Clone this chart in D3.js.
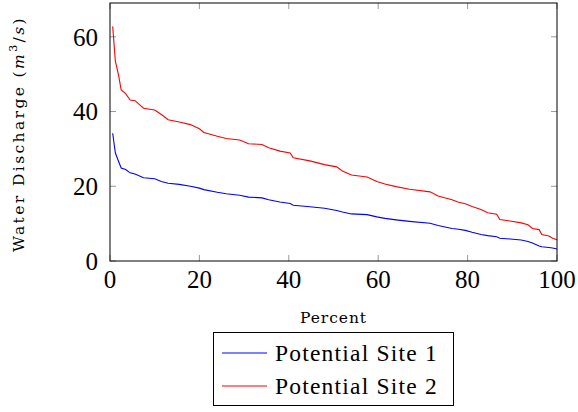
<!DOCTYPE html>
<html><head><meta charset="utf-8">
<script src="https://cdn.jsdelivr.net/npm/d3@7"></script>
<style>body{margin:0;background:#fff}svg{display:block}</style>
</head><body>
<script>
const percent = [0.6,1.2,1.9,2.5,3.5,4.5,5.6,7.5,10,11.5,13,15.5,18,20,21,24,26,29,31,34,35.5,38,40.3,41,44.7,48,50.7,52,54,57.5,59.7,61.5,64,67,71.6,73.4,76.5,78,79.5,81,83,84.5,86.5,87.2,89.5,92,93.5,94.5,96,96.6,98.2,99,100];
const site1 = [34.2,28.9,26.7,24.9,24.5,23.6,23.3,22.3,22.0,21.3,20.8,20.5,20.0,19.5,19.1,18.4,18.0,17.6,17.1,16.9,16.4,15.8,15.4,14.9,14.5,14.1,13.5,13.1,12.6,12.4,11.8,11.4,11.0,10.6,10.1,9.5,8.7,8.5,8.2,7.7,7.1,6.8,6.5,6.1,5.9,5.6,5.2,4.8,4.0,3.8,3.6,3.5,3.2];
const site2 = [62.8,53.5,49.8,45.8,44.8,43.1,42.9,40.9,40.4,39.2,37.8,37.2,36.5,35.4,34.4,33.4,32.8,32.4,31.4,31.2,30.3,29.4,28.9,27.6,26.8,25.8,25.2,24.1,23.0,22.5,21.3,20.6,19.9,19.2,18.5,17.4,16.4,15.7,15.3,14.6,13.8,12.9,12.5,11.1,10.7,10.2,9.7,8.7,8.4,7.1,6.7,6.1,5.7];
const seriesNames = ["Potential Site 1","Potential Site 2"];
const seriesColors = ["#0000ff","#ff0000"];
const xTicks = [0,20,40,60,80,100];
const yTicks = [0,20,40,60];

const W=578,H=412;
const m={l:110,r:21,t:3,b:151};
const svg=d3.select("body").append("svg").attr("width",W).attr("height",H);
const x=d3.scaleLinear().domain([0,100]).range([m.l,W-m.r]);
const y=d3.scaleLinear().domain([0,69.05]).range([H-m.b,m.t]);
const font="'Liberation Serif','DejaVu Serif',serif";
const smallFont="'DejaVu Serif','Liberation Serif',serif";

// stretch text horizontally via letter-spacing to mimic wide Computer Modern
function fit(t,target){
  const n=t.node();
  const L=n.getComputedTextLength();
  const c=(n.textContent||"").length;
  if(c>1) t.attr("letter-spacing",((target-L)/c).toFixed(2));
}

// ticks (inward, all four sides)
const tl=6;
const tg=svg.append("g").attr("stroke","#999").attr("stroke-width",1);
xTicks.forEach(t=>{
  tg.append("line").attr("x1",x(t)).attr("x2",x(t)).attr("y1",y(0)).attr("y2",y(0)-tl);
  tg.append("line").attr("x1",x(t)).attr("x2",x(t)).attr("y1",m.t).attr("y2",m.t+tl);
});
yTicks.forEach(t=>{
  tg.append("line").attr("y1",y(t)).attr("y2",y(t)).attr("x1",m.l).attr("x2",m.l+tl);
  tg.append("line").attr("y1",y(t)).attr("y2",y(t)).attr("x1",W-m.r).attr("x2",W-m.r-tl);
});

const line=d3.line().x((d,i)=>x(percent[i])).y(d=>y(d));
[site1,site2].forEach((s,k)=>{
  svg.append("path").datum(s).attr("d",line).attr("fill","none")
    .attr("stroke",seriesColors[k]).attr("stroke-width",1.1);
});

svg.append("rect").attr("x",m.l).attr("y",m.t).attr("width",W-m.r-m.l).attr("height",y(0)-m.t)
  .attr("fill","none").attr("stroke","#000").attr("stroke-width",1);

// tick labels
svg.append("g").selectAll("text").data(xTicks).join("text")
  .attr("x",d=>x(d)).attr("y",y(0)+27).attr("text-anchor","middle")
  .attr("font-family",font).attr("font-size",25).text(d=>d);
svg.append("g").selectAll("text").data(yTicks).join("text")
  .attr("x",m.l-12).attr("y",d=>y(d)+8.7).attr("text-anchor","end")
  .attr("font-family",font).attr("font-size",25).text(d=>d);

// axis labels
const xl=svg.append("text").attr("x",(x(0)+x(100))/2).attr("y",323).attr("text-anchor","middle")
  .attr("font-family",smallFont).attr("font-size",15.5).text("Percent");
fit(xl,67);
const yl=svg.append("text").attr("transform",`translate(24,134) rotate(-90)`)
  .attr("text-anchor","middle").attr("font-family",smallFont).attr("font-size",15.5);
yl.append("tspan").text("Water Discharge (");
yl.append("tspan").attr("font-style","italic").text("m");
yl.append("tspan").attr("font-size",11).attr("dy",-7).text("3");
yl.append("tspan").attr("dy",7).text("/");
yl.append("tspan").attr("font-style","italic").text("s");
yl.append("tspan").text(")");
fit(yl,236);

// legend
const lg=svg.append("g");
lg.append("rect").attr("x",213.5).attr("y",332.5).attr("width",240).attr("height",73)
  .attr("fill","#fff").attr("stroke","#000").attr("stroke-width",1);
seriesNames.forEach((n,i)=>{
  const yy=353+i*33;
  lg.append("line").attr("x1",222).attr("x2",267).attr("y1",yy).attr("y2",yy)
    .attr("stroke",seriesColors[i]).attr("stroke-width",1.1);
  const t=lg.append("text").attr("x",275).attr("y",yy+8).attr("font-family",font).attr("font-size",23.5).text(n);
  fit(t,163);
});
</script>
</body></html>
